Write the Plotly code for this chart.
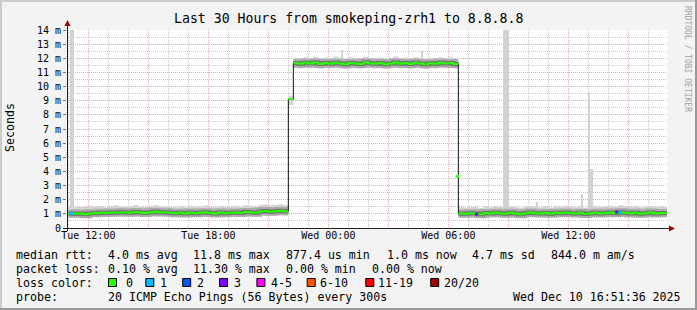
import plotly.graph_objects as go
import pandas as pd

# ------------------------------------------------------------------ data
start_time = "2025-12-09 11:00"      # first 15-minute sample
step_minutes = 15

median_rtt_ms = [
    # Tue 11:00 - 21:45
    1.02, 1.00, 1.03, 0.98, 1.05, 1.04, 1.08, 1.06, 1.10, 1.07, 1.12, 1.09,
    1.08, 1.13, 1.10, 1.06, 1.11, 1.15, 1.09, 1.12, 1.08, 1.04, 1.07, 1.02,
    1.10, 1.05, 1.08, 1.12, 1.06, 1.03, 1.09, 1.05, 1.07, 1.10, 1.06, 1.14,
    1.12, 1.08, 1.17, 1.20, 1.15, 1.18, 1.22, 1.19,
    # Tue 22:00
    9.10,
    # Tue 22:15 - Wed 06:15
    11.65, 11.61, 11.68, 11.63, 11.70, 11.59, 11.66, 11.62, 11.69, 11.64, 11.57,
    11.67, 11.63, 11.60, 11.70, 11.65, 11.61, 11.67, 11.58, 11.64, 11.71, 11.62,
    11.66, 11.59, 11.68, 11.63, 11.57, 11.65, 11.61, 11.69, 11.63, 11.66, 11.60,
    # Wed 06:30 - 16:45
    1.02, 1.00, 1.04, 1.02, 0.97, 1.06, 1.03, 1.08, 1.05, 1.01, 1.07, 1.03, 0.98,
    1.05, 1.09, 1.04, 1.02, 1.06, 1.00, 1.08, 1.04, 1.10, 1.05, 1.02, 1.07,
    0.99, 1.04, 1.08, 1.03, 1.06, 1.10, 1.05, 1.12, 1.08, 1.03, 1.07, 1.01,
    1.05, 1.09, 1.03, 1.06, 1.04,
]

smoke_hi_ms = [
    1.55, 1.50, 1.48, 1.52, 1.58, 1.50, 1.55, 1.47, 1.53, 1.60, 1.52, 1.49,
    1.56, 1.62, 1.51, 1.48, 1.57, 1.60, 1.50, 1.54, 1.49, 1.46, 1.52, 1.47,
    1.58, 1.50, 1.53, 1.59, 1.49, 1.46, 1.54, 1.50, 1.52, 1.57, 1.51, 1.60,
    1.58, 1.53, 1.64, 1.66, 1.60, 1.63, 1.68, 1.62,
    9.35,
    12.03, 11.98, 12.08, 12.01, 12.11, 11.97, 12.05, 12.00, 12.13, 12.03, 11.96,
    12.07, 12.02, 11.99, 12.10, 12.04, 11.98, 12.06, 11.97, 12.03, 12.12, 12.01,
    12.05, 11.98, 12.09, 12.02, 11.96, 12.04, 12.00, 12.08, 12.02, 12.05, 11.99,
    1.48,
    1.45, 1.50, 1.48, 1.42, 1.53, 1.47, 1.55, 1.50, 1.46, 1.52, 1.48, 1.43,
    1.50, 1.56, 1.49, 1.47, 1.52, 1.45, 1.55, 1.50, 1.58, 1.50, 1.47, 1.53,
    1.44, 1.49, 1.55, 1.48, 1.52, 1.57, 1.50, 1.60, 1.55, 1.48, 1.53, 1.46,
    1.50, 1.56, 1.48, 1.52, 1.49,
]

smoke_lo_ms = [
    0.80, 0.78, 0.82, 0.76, 0.83, 0.81, 0.84, 0.80, 0.86, 0.82, 0.85, 0.83,
    0.80, 0.86, 0.84, 0.79, 0.83, 0.87, 0.81, 0.85, 0.80, 0.77, 0.81, 0.76,
    0.84, 0.79, 0.82, 0.85, 0.80, 0.77, 0.83, 0.79, 0.81, 0.84, 0.80, 0.86,
    0.85, 0.81, 0.88, 0.90, 0.86, 0.88, 0.91, 0.89,
    8.70,
    11.31, 11.27, 11.33, 11.29, 11.35, 11.25, 11.32, 11.28, 11.34, 11.30, 11.23,
    11.33, 11.29, 11.26, 11.35, 11.31, 11.27, 11.33, 11.24, 11.30, 11.36, 11.28,
    11.32, 11.25, 11.34, 11.29, 11.23, 11.31, 11.27, 11.35, 11.29, 11.32, 11.26,
    0.76,
    0.74, 0.78, 0.76, 0.72, 0.80, 0.77, 0.82, 0.79, 0.75, 0.81, 0.77, 0.73,
    0.79, 0.83, 0.78, 0.76, 0.80, 0.74, 0.82, 0.78, 0.84, 0.79, 0.76, 0.81,
    0.73, 0.78, 0.82, 0.77, 0.80, 0.84, 0.79, 0.86, 0.82, 0.77, 0.81, 0.75,
    0.79, 0.83, 0.77, 0.80, 0.78,
]

# the single 5-minute sample caught half way through the drop back
transition_times = ["2025-12-10 06:28"]
transition_rtt_ms = [3.65]

# single 5-minute samples whose slowest pings stick out of the smoke
spike_times = ["2025-12-09 11:08", "2025-12-09 11:13",
               "2025-12-10 00:40", "2025-12-10 04:40",
               "2025-12-10 08:48", "2025-12-10 08:53", "2025-12-10 08:58",
               "2025-12-10 10:25", "2025-12-10 12:40",
               "2025-12-10 13:02", "2025-12-10 13:07", "2025-12-10 13:12"]
spike_lo_ms = [1.40, 1.40, 11.90, 11.90, 1.40, 1.40, 1.40, 1.30, 1.30, 1.30, 1.30, 1.30]
spike_hi_ms = [20.0, 20.0, 12.60, 12.55, 20.0, 20.0, 20.0, 1.83, 2.40, 9.60, 4.15, 4.15]

# samples with packet loss (number of lost pings out of 20)
loss_times = ["2025-12-09 11:10", "2025-12-10 07:25", "2025-12-10 14:25", "2025-12-10 14:35"]
loss_pings = [1, 3, 3, 1]
loss_rtt_ms = [1.03, 0.98, 1.12, 1.10]

loss_labels = ["0", "1", "2", "3", "4-5", "6-10", "11-19", "20/20"]
loss_colors = ["#26ff00", "#00b8ff", "#0059ff", "#7e00ff", "#ff00ff", "#ff5500", "#ff0000", "#a10000"]
loss_upper = [0, 1, 2, 3, 5, 10, 19, 20]

x_range = ["2025-12-09 10:56", "2025-12-10 16:56"]
x_tick_times = ["2025-12-09 12:00", "2025-12-09 15:00", "2025-12-09 18:00", "2025-12-09 21:00",
                "2025-12-10 00:00", "2025-12-10 03:00", "2025-12-10 06:00", "2025-12-10 09:00",
                "2025-12-10 12:00", "2025-12-10 15:00"]
x_tick_labels = ["Tue 12:00", "", "Tue 18:00", "", "Wed 00:00", "", "Wed 06:00", "", "Wed 12:00", ""]
y_tick_values = [0, 1, 2, 3, 4, 5, 6, 7, 8, 9, 10, 11, 12, 13, 14]
y_tick_labels = ["0", "1 m", "2 m", "3 m", "4 m", "5 m", "6 m", "7 m", "8 m", "9 m",
                 "10 m", "11 m", "12 m", "13 m", "14 m"]

title_text = "Last 30 Hours from smokeping-zrh1 to 8.8.8.8"
rtt_items = ["median rtt:", "4.0 ms avg", "11.8 ms max", "877.4 us min", "1.0 ms now",
             "4.7 ms sd", "844.0 m am/s"]
loss_items = ["packet loss:", "0.10 % avg", "11.30 % max", "0.00 % min", "0.00 % now"]
probe_items = ["probe:", "20 ICMP Echo Pings (56 Bytes) every 300s"]
timestamp_text = "Wed Dec 10 16:51:36 2025"
watermark_text = "RRDTOOL / TOBI OETIKER"

# ------------------------------------------------------------------ layout helpers
W, H = 697, 310
PL, PR, PT, PB = 67, 667, 30, 228
MONO = "DejaVu Sans Mono"


def px_x(px):
    return (px - PL) / (PR - PL)


def px_y(py):
    return (PB - py) / (PB - PT)


times = pd.date_range(start_time, periods=len(median_rtt_ms), freq=f"{step_minutes}min")


def runs(vals, jump):
    out, cur = [], [0]
    for i in range(1, len(vals)):
        if abs(vals[i] - vals[i - 1]) > jump:
            out.append(cur)
            cur = [i]
        else:
            cur.append(i)
    out.append(cur)
    return out


def step_segments(ts, vals, jump=None, min_run=1):
    """hv step line, optionally broken where the value jumps by more than `jump`."""
    n = len(vals)
    end = ts[-1] + pd.Timedelta(minutes=step_minutes)
    groups = runs(vals, jump) if jump is not None else [list(range(n))]
    xs, ys = [], []
    for g in groups:
        if len(g) < min_run:
            continue
        for i in g:
            xs.append(ts[i]); ys.append(vals[i])
        j = g[-1]
        nxt = ts[j + 1] if j + 1 < n else end
        xs.append(nxt); ys.append(vals[j])
        xs.append(nxt); ys.append(None)
    return xs, ys


def loss_color(n):
    for up, col in zip(loss_upper, loss_colors):
        if n <= up:
            return col
    return loss_colors[-1]


fig = go.Figure()

# tall smoke spikes
fig.add_trace(go.Bar(
    x=spike_times, base=spike_lo_ms,
    y=[h - l for h, l in zip(spike_hi_ms, spike_lo_ms)],
    width=6 * 60 * 1000, marker=dict(color="#d2d2d2", line=dict(width=0)),
    hoverinfo="skip"))

# outer smoke band
lx, ly = step_segments(times, smoke_lo_ms)
hx, hy = step_segments(times, smoke_hi_ms)
fig.add_trace(go.Scatter(x=lx, y=ly, mode="lines", line=dict(width=0, shape="hv"),
                         hoverinfo="skip"))
fig.add_trace(go.Scatter(x=hx, y=hy, mode="lines", line=dict(width=0, shape="hv"),
                         fill="tonexty", fillcolor="#d4d4d4", hoverinfo="skip"))

# denser smoke around the median
dx, dy = step_segments(times, median_rtt_ms, jump=1.0, min_run=2)
fig.add_trace(go.Scatter(x=dx, y=dy, mode="lines", connectgaps=False,
                         line=dict(width=8, color="#ababab", shape="hv"), hoverinfo="skip"))
fig.add_trace(go.Scatter(x=dx, y=dy, mode="lines", connectgaps=False,
                         line=dict(width=4, color="#707070", shape="hv"), hoverinfo="skip"))

# median line (dark) and loss-coloured overlay
mx, my = step_segments(times, median_rtt_ms)
fig.add_trace(go.Scatter(x=mx, y=my, mode="lines",
                         line=dict(width=1, color="#111111", shape="hv"), hoverinfo="skip"))
sx, sy = step_segments(times, median_rtt_ms, jump=1.0)
fig.add_trace(go.Scatter(x=sx, y=sy, mode="lines", connectgaps=False,
                         line=dict(width=2, color=loss_colors[0], shape="hv"), hoverinfo="skip"))
fig.add_trace(go.Scatter(x=transition_times, y=transition_rtt_ms, mode="markers",
                         marker=dict(symbol="square", size=3, color=loss_colors[0],
                                     line=dict(width=0)),
                         hoverinfo="skip"))
fig.add_trace(go.Scatter(x=loss_times, y=loss_rtt_ms, mode="markers",
                         marker=dict(symbol="square", size=3,
                                     color=[loss_color(n) for n in loss_pings],
                                     line=dict(width=0)),
                         hoverinfo="skip"))

MAJOR = "#f0a3a3"
MINOR = "#c6c6c6"

# minor grid positions: every hour / every half unit that is not a major line
major_x = set(pd.to_datetime(x_tick_times))
x_minor = [t for t in pd.date_range(x_range[0][:-2] + "00", x_range[1], freq="1h")
           if t not in major_x and pd.Timestamp(x_range[0]) <= t <= pd.Timestamp(x_range[1])]
y_minor = [v + 0.5 for v in y_tick_values[:-1]]

fig.update_layout(
    width=W, height=H, margin=dict(l=PL, r=W - PR, t=PT, b=H - PB),
    paper_bgcolor="#f3f3f3", plot_bgcolor="#ffffff", showlegend=False,
    bargap=0,
    xaxis=dict(type="date", range=x_range, tickmode="array",
               tickvals=x_tick_times, ticktext=x_tick_labels,
               showgrid=True, gridcolor=MAJOR, gridwidth=1, griddash="1px,1px",
               ticks="", showline=False, zeroline=False,
               tickfont=dict(family=MONO, size=10, color="#000000"),
               minor=dict(tickmode="array", tickvals=x_minor, showgrid=True,
                          gridcolor=MINOR, gridwidth=1, griddash="1px,1px", ticks="")),
    yaxis=dict(range=[0, 14], tickmode="array", tickvals=y_tick_values, ticktext=y_tick_labels,
               showgrid=True, gridcolor=MAJOR, gridwidth=1, griddash="1px,1px",
               ticks="outside", ticklen=3, tickcolor="#777777", showline=False, zeroline=False,
               tickfont=dict(family=MONO, size=10, color="#000000"),
               minor=dict(tickmode="array", tickvals=y_minor, showgrid=True, gridcolor=MINOR,
                          gridwidth=1, griddash="1px,1px", ticks="")),
)

shapes = []


def rect_px(x0, y0, x1, y1, fill, line_color=None, lw=0):
    shapes.append(dict(type="rect", xref="paper", yref="paper",
                       x0=px_x(x0), x1=px_x(x1), y0=px_y(y0), y1=px_y(y1),
                       fillcolor=fill, line=dict(width=lw, color=line_color or fill),
                       layer="above"))


def line_px(x0, y0, x1, y1, color, lw=1):
    shapes.append(dict(type="line", xref="paper", yref="paper",
                       x0=px_x(x0), x1=px_x(x1), y0=px_y(y0), y1=px_y(y1),
                       line=dict(width=lw, color=color), layer="above"))


def tri_px(pts, color):
    path = "M " + " L ".join(f"{px_x(a)},{px_y(b)}" for a, b in pts) + " Z"
    shapes.append(dict(type="path", xref="paper", yref="paper", path=path,
                       fillcolor=color, line=dict(width=0), layer="above"))


# frame
rect_px(0, 0, W, 2, "#cbcbcb")
rect_px(0, 0, 2, H, "#cbcbcb")
rect_px(0, H - 2, W, H, "#999999")
rect_px(W - 2, 0, W, H, "#999999")

# axes with arrows
line_px(63, PB + 0.5, 670, PB + 0.5, "#222222")
line_px(PL + 0.5, PB + 3, PL + 0.5, 25, "#222222")
tri_px([(669, PB + 0.5 - 3), (675, PB + 0.5), (669, PB + 0.5 + 3)], "#a00000")
tri_px([(PL + 0.5 - 3, 26), (PL + 0.5, 20), (PL + 0.5 + 3, 26)], "#a00000")

annotations = []


def ann(text, px, py, size, xanchor="left", color="#000000", angle=0):
    annotations.append(dict(text=text.replace(" ", "\u00a0"), x=px_x(px), y=px_y(py),
                            xref="paper", yref="paper", xanchor=xanchor, yanchor="middle",
                            showarrow=False, borderpad=0, borderwidth=0, textangle=angle,
                            font=dict(family=MONO, size=size, color=color)))


ann(title_text, 348, 19, 13.2, xanchor="center")
ann("Seconds", 10, 128, 11.6, xanchor="center", angle=-90)
ann(watermark_text, 688, 59, 8, xanchor="center", color="#a0a0a0", angle=90)

LEG = 11.6
rtt_x = [16, 107.6, 193.3, 285.8, 386.7, 472, 551]
for t, x in zip(rtt_items, rtt_x):
    ann(t, x, 254.5, LEG)
loss_x = [16, 107.6, 193.3, 285.8, 372.4]
for t, x in zip(loss_items, loss_x):
    ann(t, x, 268.5, LEG)
ann("loss color:", 16, 282.5, LEG)
square_x = [108, 145.3, 182.2, 219, 256.4, 306.7, 365.3, 430.2]
label_x = [125.8, 160, 197.3, 234.2, 271.1, 320, 377.8, 444.4]
for lab, col, sx0, lx0 in zip(loss_labels, loss_colors, square_x, label_x):
    rect_px(sx0 + 0.5, 278.5, sx0 + 8.5, 286.5, col, "#000000", 1)
    ann(lab, lx0, 282.5, LEG)
probe_x = [16, 107.6]
for t, x in zip(probe_items, probe_x):
    ann(t, x, 296.5, LEG)
ann(timestamp_text, 681, 296.5, LEG, xanchor="right")

fig.update_layout(shapes=shapes, annotations=annotations)
fig.write_html("out.html")
